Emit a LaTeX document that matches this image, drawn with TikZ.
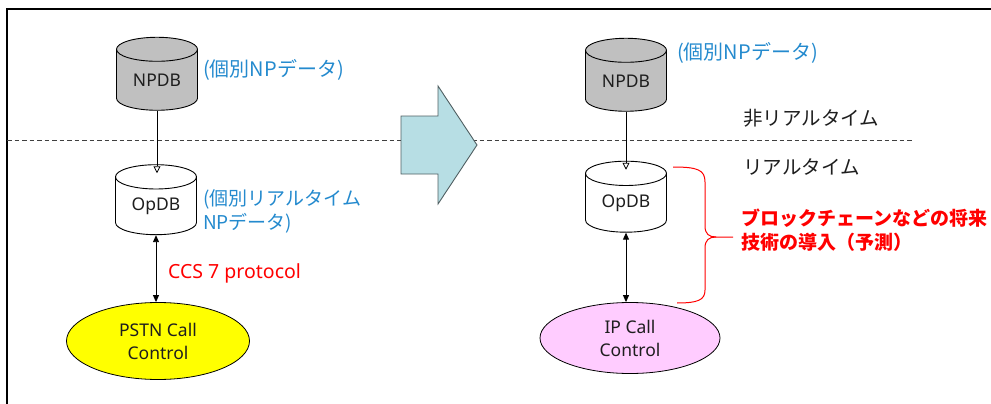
\documentclass[tikz,border=0pt]{standalone}
\usepackage{fontspec}
\setmainfont{Noto Sans}
\newfontfamily\jp{Noto Sans CJK JP}
\usetikzlibrary{shapes.geometric,arrows.meta}

\definecolor{lblblue}{RGB}{36,138,206}
\definecolor{dbgray}{RGB}{192,192,192}
\definecolor{callyellow}{RGB}{255,255,0}
\definecolor{callpink}{RGB}{255,204,255}
\definecolor{bigarrow}{RGB}{183,222,228}
\definecolor{bigarrowline}{RGB}{80,95,98}
\definecolor{inktext}{RGB}{30,30,30}

\tikzset{
  db/.style={shape=cylinder, shape border rotate=90, aspect=0.5, draw=black,
    line width=0.9pt, minimum width=81pt, minimum height=73pt, inner sep=0pt,
    text=inktext, font=\fontsize{17.5}{20}\selectfont},
  callctl/.style={shape=ellipse, draw=black, line width=0.8pt, inner sep=0pt,
    align=center, text=inktext, font=\fontsize{17.5}{23}\selectfont},
  bluelabel/.style={text=lblblue, align=left, inner sep=0pt,
    font=\jp\fontsize{20}{25}\selectfont},
  zonelabel/.style={text=inktext, inner sep=0pt, anchor=west,
    font=\jp\fontsize{19.5}{24}\selectfont},
  oneway/.style={draw=black, line width=0.8pt,
    -{Triangle[open, length=7pt, width=7pt]}},
  twoway/.style={draw=black, line width=0.9pt,
    {Triangle[length=7pt, width=6pt]}-{Triangle[length=7pt, width=6pt]}},
  zoneline/.style={draw=black!75, line width=0.8pt, dash pattern=on 4.5pt off 3pt},
  brace/.style={draw=red, line width=1pt, line join=round},
}

\begin{document}
\begin{tikzpicture}[x=1pt, y=-1pt]
\useasboundingbox (0,0) rectangle (991,404);

% frame edges
\draw[line width=1.6pt] (7,404) -- (7,9) -- (991,9);

% boundary between non-real-time and real-time
\draw[zoneline] (7,140) -- (913,140);

% transition arrow
\draw[fill=bigarrow, draw=bigarrowline, line width=0.9pt, line join=miter]
  (401,116) -- (438,116) -- (438,86) -- (477,145) -- (438,204) -- (438,174)
  -- (401,174) -- cycle;

% left: PSTN
\node[db, fill=dbgray] (npdbL) at (157,80) {NPDB};
\node[db, fill=white, minimum height=70pt] (opdbL) at (156,206) {OpDB};
\node[callctl, fill=callyellow, minimum width=183pt, minimum height=77pt]
  (pstn) at (158,341) {PSTN Call\\Control};

\node[bluelabel, anchor=west] (npdbLlbl) at (203,70) {(個別NPデータ)};
\node[bluelabel, anchor=north west, font=\jp\fontsize{19}{24}\selectfont]
  (opdbLlbl) at (203,189) {(個別リアルタイム\\NPデータ)};
\node[text=red, anchor=west, inner sep=0pt, font=\fontsize{19.5}{22}\selectfont]
  (ccs) at (168,273) {CCS 7 protocol};

\draw[oneway, shorten >=-9pt] (npdbL.south) -- (npdbL.south |- opdbL.north);
\draw[twoway] (opdbL.south) -- (opdbL.south |- pstn.north);

% right: IP
\node[db, fill=dbgray] (npdbR) at (626,81) {NPDB};
\node[db, fill=white, minimum height=71pt] (opdbR) at (626,203) {OpDB};
\node[callctl, fill=callpink, minimum width=180pt, minimum height=71pt]
  (ipcc) at (630,338) {IP Call\\Control};

\node[bluelabel, anchor=west] (npdbRlbl) at (677,53) {(個別NPデータ)};
\node[zonelabel] (nonrt) at (743,118) {非リアルタイム};
\node[zonelabel] (rt) at (743,167) {リアルタイム};

\draw[oneway, shorten >=-9pt] (npdbR.south) -- (npdbR.south |- opdbR.north);
\draw[twoway] (opdbR.south) -- (opdbR.south |- ipcc.north);

% brace over OpDB and IP call control
\draw[brace] (673,167) .. controls (698,167) and (705,170) .. (705,182)
  -- (705,226) .. controls (705,234) and (709,237) .. (716,237) -- (733,237);
\draw[brace] (716,237) .. controls (709,237) and (705,240) .. (705,248)
  -- (705,290) .. controls (705,300) and (698,303) .. (677,303);

\node[text=red, anchor=west, align=left, inner sep=0pt,
  font=\jp\bfseries\fontsize{19}{24}\selectfont] (future) at (741,230)
  {ブロックチェーンなどの将来\\技術の導入（予測）};
\end{tikzpicture}
\end{document}
